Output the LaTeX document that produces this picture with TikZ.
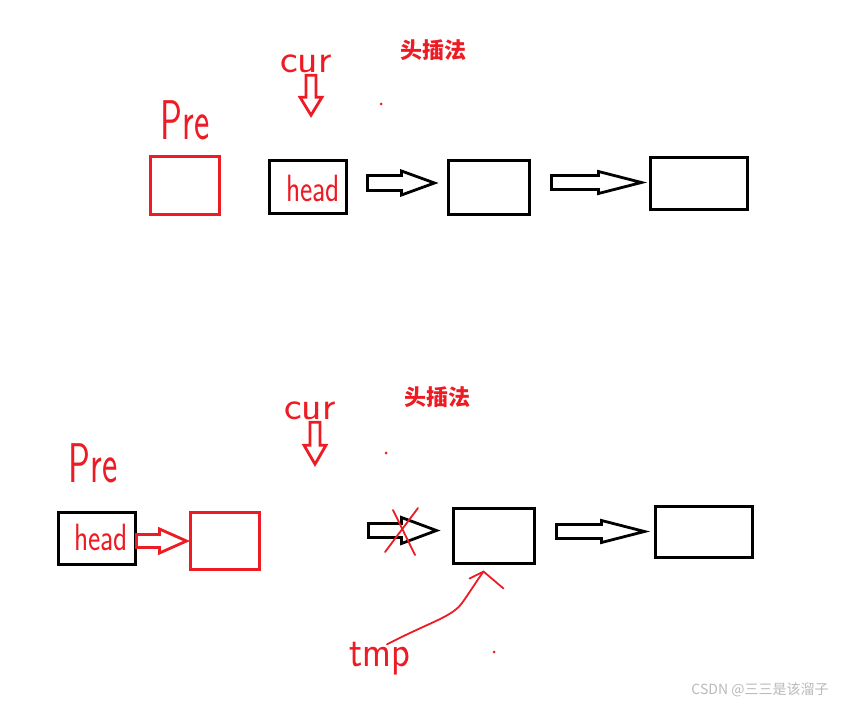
\documentclass[tikz,border=0pt]{standalone}
\usepackage{fontspec}
\newfontfamily\cjk{Noto Sans CJK SC}
\usetikzlibrary{calc,positioning}
\definecolor{inkRed}{RGB}{237,28,36}
\definecolor{markGray}{RGB}{185,185,185}
\tikzset{
  listbox/.style={draw=black, line width=3pt, inner sep=0pt},
  hand/.style={text=inkRed, inner sep=0pt, font=\sffamily},
  handln/.style={draw=inkRed, line width=1.8pt, line cap=round, line join=round},
  cjktitle/.style={text=inkRed, inner sep=0pt, font=\cjk\bfseries\fontsize{22}{22}\selectfont},
}
% hollow block arrow: colour, start, angle, length, shaft half, head half, head length
\newcommand{\fatarrow}[7]{%
  \draw[#1, line width=2.8pt, line join=miter, shift={#2}, rotate=#3]
    (0,-#5) -- ({#4-#7},-#5) -- ({#4-#7},-#6) -- (#4,0)
    -- ({#4-#7},#6) -- ({#4-#7},#5) -- (0,#5) -- cycle;
}
\newcommand{\handtxt}[3]{\fontsize{#1}{#1}\selectfont\scalebox{#2}[1]{#3}}

\begin{document}
\begin{tikzpicture}[x=1pt,y=-1pt]
  \useasboundingbox (0,0) rectangle (846,706);
  % ---- top: start of head insertion ----
  \node[cjktitle] (title1) at (433.5,50) {头插法};
  \node[hand] (cur1) at (306,64) {\handtxt{40}{1.05}{cur}};
  \node[hand] (prelbl1) at (185,120) {\handtxt{56}{0.65}{Pre}};
  \node[listbox, draw=inkRed, minimum width=69pt, minimum height=57pt] (pre1) at (184.5,185.5) {};
  \node[listbox, minimum width=77pt, minimum height=52pt] (head1) at (307.5,187) {};
  \node[hand] at (313,188) {\handtxt{38}{0.77}{head}};
  \node[listbox, minimum width=81pt, minimum height=53pt] (n1a) at (488.5,187.5) {};
  \node[listbox, minimum width=97pt, minimum height=51pt] (n1b) at (698.5,183.5) {};
  \fill[inkRed] (381,104) circle (1.5);
  % arrows
  \fatarrow{inkRed}{($(cur1.south)+(5,2)$)}{-90}{40}{5}{11}{18}
  \fatarrow{black}{($(head1.east)+(20,-4)$)}{0}{67}{7.5}{12}{33}
  \fatarrow{black}{($(n1a.east)+(21,-5)$)}{0}{90}{7}{11}{43}

  % ---- bottom: pre moved in front ----
  \node[cjktitle] (title2) at (437.5,397) {头插法};
  \node[hand] (cur2) at (310,411) {\handtxt{40}{1.05}{cur}};
  \node[hand] (prelbl2) at (93,463) {\handtxt{56}{0.65}{Pre}};
  \node[listbox, minimum width=77pt, minimum height=52pt] (head2) at (96.5,538) {};
  \node[hand] at (101,537) {\handtxt{38}{0.77}{head}};
  \node[listbox, draw=inkRed, minimum width=69pt, minimum height=57pt] (pre2) at (224.5,540.5) {};
  \node[listbox, minimum width=81pt, minimum height=55pt] (n2a) at (493.5,535.5) {};
  \node[listbox, minimum width=97pt, minimum height=51pt] (n2b) at (703.5,531.5) {};
  \node[hand] (tmp) at (380,659) {\handtxt{44}{0.88}{tmp}};
  \fill[inkRed] (386,453) circle (1.5);
  \fill[inkRed] (494,652) circle (1.5);
  % arrows
  \fatarrow{inkRed}{($(cur2.south)+(5,2)$)}{-90}{42}{5}{11}{19}
  \fatarrow{inkRed}{($(head2.east)+(0,3)$)}{0}{50}{6.5}{12}{27}
  \fatarrow{black}{($(n2a.west)+(-83,-5)$)}{0}{68}{7}{13}{35}
  \fatarrow{black}{($(n2a.east)+(21,-4)$)}{0}{88}{7}{11}{43}
  % cross over the old link
  \draw[handln] (393,510) -- (415,555);
  \draw[handln] (418,508) -- (385,552);
  % tmp points at the next node
  \coordinate (tmptip) at ($(n2a.south)+(-10,7)$);
  \draw[handln] ($(tmp.north)+(7,2)$) .. controls (430,622) and (452,617) .. (462,603)
    .. controls (470,592) and (476,582) .. (tmptip);
  \draw[handln] ($(tmptip)+(-14,7)$) -- (tmptip) -- ($(tmptip)+(20,17)$);

  % watermark
  \node[text=markGray, inner sep=0pt, font=\cjk\fontsize{14}{14}\selectfont] at (760,690) {CSDN @三三是该溜子};
\end{tikzpicture}
\end{document}
